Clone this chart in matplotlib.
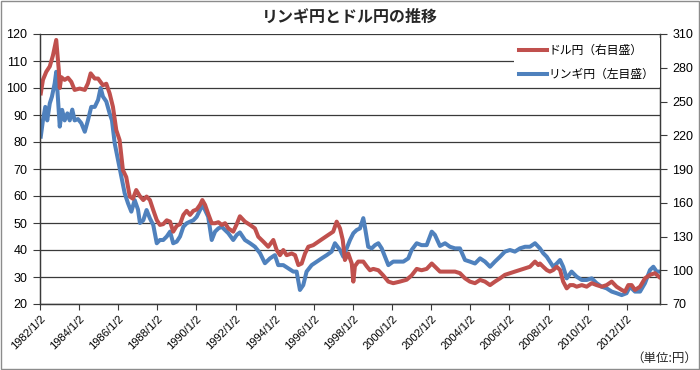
import matplotlib
matplotlib.use("Agg")
import matplotlib.pyplot as plt
from matplotlib.patches import Rectangle

plt.rcParams['font.family'] = ['Liberation Sans', 'Noto Sans CJK JP', 'DejaVu Sans']

# ---- data (decimal years, values) ----
usd_years = [1982.04, 1982.15, 1982.32, 1982.50, 1982.66, 1982.83, 1982.96, 1983.01, 1983.09, 1983.26,
             1983.43, 1983.60, 1983.77, 1984.03, 1984.29, 1984.45, 1984.59, 1984.80, 1984.97, 1985.22,
             1985.39, 1985.56, 1985.73, 1985.90, 1986.07, 1986.24, 1986.41, 1986.59, 1986.75, 1986.92,
             1987.10, 1987.28, 1987.45, 1987.62, 1987.79, 1987.97, 1988.13, 1988.30, 1988.48, 1988.65,
             1988.81, 1988.99, 1989.16, 1989.33, 1989.50, 1989.67, 1989.84, 1990.01, 1990.18, 1990.30,
             1990.44, 1990.60, 1990.78, 1990.95, 1991.12, 1991.29, 1991.46, 1991.63, 1991.88, 1992.06,
             1992.22, 1992.48, 1992.74, 1992.99, 1993.16, 1993.42, 1993.67, 1993.93, 1994.10, 1994.27,
             1994.44, 1994.61, 1994.87, 1995.04, 1995.21, 1995.38, 1995.55, 1995.72, 1995.97, 1996.23,
             1996.48, 1996.74, 1996.99, 1997.17, 1997.34, 1997.48, 1997.59, 1997.76, 1997.94, 1998.02,
             1998.10, 1998.27, 1998.53, 1998.70, 1998.87, 1999.04, 1999.30, 1999.55, 1999.81, 2000.06,
             2000.40, 2000.75, 2001.00, 2001.26, 2001.51, 2001.77, 2002.03, 2002.28, 2002.45, 2002.71,
             2002.96, 2003.22, 2003.47, 2003.73, 2003.98, 2004.24, 2004.50, 2004.75, 2005.01, 2005.26,
             2005.52, 2005.77, 2006.03, 2006.28, 2006.54, 2006.80, 2007.05, 2007.31, 2007.48, 2007.56,
             2007.73, 2007.91, 2008.07, 2008.24, 2008.42, 2008.59, 2008.75, 2008.93, 2009.10, 2009.27,
             2009.44, 2009.70, 2009.95, 2010.21, 2010.46, 2010.72, 2010.97, 2011.23, 2011.48, 2011.74,
             2011.91, 2012.08, 2012.25, 2012.42, 2012.68, 2012.93, 2013.19, 2013.44, 2013.66]
usd_jpy = [257.2, 269.2, 276.4, 281.2, 290.8, 304.7, 278.1, 262.0, 271.6, 269.2,
           271.1, 267.5, 260.3, 261.5, 260.3, 266.1, 275.0, 270.4, 270.4, 264.4,
           265.8, 257.2, 245.2, 224.6, 215.7, 189.0, 182.8, 165.5, 163.6, 171.3,
           166.0, 162.4, 165.5, 162.4, 153.5, 144.6, 140.3, 141.0, 144.4, 143.2,
           134.3, 139.4, 141.0, 149.2, 152.8, 149.2, 152.8, 154.0, 158.1, 162.4,
           158.1, 150.2, 141.8, 141.8, 142.7, 140.3, 141.8, 137.2, 134.3, 141.0,
           148.0, 143.2, 140.3, 137.2, 129.8, 125.4, 120.9, 126.9, 118.0, 113.4,
           118.0, 113.4, 114.9, 113.4, 104.6, 106.0, 114.9, 120.9, 122.3, 125.4,
           128.3, 131.4, 134.3, 143.2, 137.2, 126.9, 109.1, 114.9, 106.0, 89.9,
           103.6, 107.7, 107.7, 103.6, 100.0, 101.2, 100.0, 95.4, 89.9, 88.5,
           89.9, 91.6, 95.4, 101.2, 100.0, 101.2, 106.0, 101.7, 98.8, 98.8,
           98.8, 98.8, 97.4, 92.8, 89.9, 88.5, 91.4, 89.9, 86.8, 89.9,
           92.8, 95.9, 97.4, 98.8, 100.2, 101.7, 103.1, 107.7, 104.6, 106.0,
           103.1, 100.2, 98.8, 100.2, 103.1, 100.2, 89.9, 83.9, 86.8, 86.8,
           85.4, 86.8, 85.4, 88.5, 86.8, 85.4, 86.8, 89.9, 85.4, 82.5,
           81.0, 86.8, 86.8, 82.5, 85.4, 92.8, 95.9, 97.4, 94.0]

myr_years = [1982.04, 1982.15, 1982.27, 1982.37, 1982.50, 1982.61, 1982.75, 1982.83, 1982.92, 1983.01,
             1983.13, 1983.26, 1983.40, 1983.52, 1983.65, 1983.77, 1983.94, 1984.11, 1984.29, 1984.45,
             1984.62, 1984.80, 1984.97, 1985.10, 1985.22, 1985.39, 1985.56, 1985.68, 1985.82, 1985.99,
             1986.16, 1986.33, 1986.50, 1986.67, 1986.84, 1987.01, 1987.11, 1987.28, 1987.45, 1987.62,
             1987.79, 1987.97, 1988.13, 1988.30, 1988.48, 1988.65, 1988.81, 1988.99, 1989.16, 1989.33,
             1989.50, 1989.67, 1989.84, 1990.01, 1990.18, 1990.30, 1990.44, 1990.60, 1990.78, 1990.95,
             1991.12, 1991.29, 1991.46, 1991.63, 1991.88, 1992.06, 1992.22, 1992.48, 1992.74, 1992.99,
             1993.25, 1993.50, 1993.76, 1994.01, 1994.18, 1994.44, 1994.69, 1994.95, 1995.12, 1995.29,
             1995.46, 1995.63, 1995.89, 1996.15, 1996.40, 1996.66, 1996.91, 1997.08, 1997.34, 1997.51,
             1997.68, 1997.85, 1998.02, 1998.19, 1998.36, 1998.53, 1998.61, 1998.78, 1998.96, 1999.13,
             1999.30, 1999.47, 1999.64, 1999.81, 2000.06, 2000.32, 2000.58, 2000.83, 2001.00, 2001.26,
             2001.51, 2001.77, 2002.03, 2002.19, 2002.45, 2002.71, 2002.96, 2003.22, 2003.47, 2003.73,
             2003.98, 2004.24, 2004.50, 2004.75, 2005.01, 2005.26, 2005.52, 2005.77, 2006.03, 2006.28,
             2006.54, 2006.80, 2007.05, 2007.31, 2007.48, 2007.56, 2007.73, 2007.91, 2008.07, 2008.24,
             2008.42, 2008.59, 2008.75, 2008.93, 2009.18, 2009.44, 2009.70, 2009.95, 2010.21, 2010.46,
             2010.72, 2010.97, 2011.23, 2011.48, 2011.74, 2011.99, 2012.16, 2012.42, 2012.68, 2012.93,
             2013.19, 2013.36, 2013.53, 2013.66]
myr_jpy = [82.0, 88.0, 93.0, 88.0, 94.3, 96.8, 101.7, 106.0, 95.6, 85.7,
           91.9, 88.0, 90.6, 88.0, 92.0, 88.0, 88.5, 87.0, 83.8, 88.0,
           93.0, 93.0, 95.6, 100.0, 96.8, 95.0, 90.6, 88.0, 79.5, 73.3,
           67.0, 61.0, 57.3, 54.2, 58.5, 55.0, 50.0, 51.0, 54.8, 51.7,
           49.3, 42.5, 43.7, 43.7, 45.0, 46.8, 42.5, 43.1, 45.0, 48.6,
           49.9, 50.5, 51.0, 52.3, 54.8, 56.7, 54.8, 52.3, 43.7, 46.8,
           48.0, 48.6, 47.4, 46.2, 43.7, 45.6, 46.5, 43.7, 42.5, 41.2,
           38.8, 35.1, 36.9, 38.1, 34.4, 34.4, 33.2, 32.0, 32.0, 25.2,
           27.0, 32.0, 34.4, 35.7, 36.9, 38.1, 39.4, 42.5, 40.0, 37.5,
           40.6, 43.7, 46.2, 47.4, 48.0, 51.8, 48.6, 41.2, 40.6, 41.8,
           42.5, 40.6, 37.5, 34.4, 35.7, 35.7, 35.7, 36.9, 40.0, 42.5,
           41.8, 41.8, 46.8, 45.6, 41.5, 42.5, 41.2, 40.6, 40.6, 36.3,
           35.7, 35.0, 36.9, 35.7, 33.8, 35.7, 37.5, 39.4, 40.0, 39.4,
           40.6, 41.2, 41.2, 42.5, 41.2, 40.6, 38.8, 37.5, 35.7, 33.8,
           35.0, 36.3, 33.8, 29.5, 32.0, 30.1, 28.9, 28.9, 29.5, 27.7,
           26.4, 25.8, 24.6, 24.0, 23.3, 24.0, 26.4, 24.6, 24.6, 27.7,
           32.6, 33.8, 32.0, 32.0]

left_ticks = [20, 30, 40, 50, 60, 70, 80, 90, 100, 110, 120]
right_ticks = [70, 100, 130, 160, 190, 220, 250, 280, 310]
x_tick_years = list(range(1982, 2013, 2))
x_tick_labels = [f"{y}/1/2" for y in x_tick_years]

title = "リンギ円とドル円の推移"
usd_label = "ドル円（右目盛）"
myr_label = "リンギ円（左目盛）"
unit_note = "（単位:円）"

RED = "#C0504D"
BLUE = "#4F81BD"
GRID = "#3a3a3a"
CJK = ['Noto Sans CJK JP', 'DejaVu Sans']
LW = 2.9

fig = plt.figure(figsize=(7.0, 3.7), dpi=100)
fig.patches.append(Rectangle((0.001, 0.002), 0.997, 0.995, transform=fig.transFigure,
                             fill=False, edgecolor="#8c8c8c", linewidth=1.0))
ax1 = fig.add_axes([40/700, 1-304/370, 620/700, 270/370])
ax2 = ax1.twinx()

l1, = ax1.plot(myr_years, myr_jpy, color=BLUE, linewidth=LW, solid_joinstyle='round')
l2, = ax2.plot(usd_years, usd_jpy, color=RED, linewidth=LW, solid_joinstyle='round')

ax1.set_xlim(1982.0, 2013.70)
ax1.set_ylim(20, 120)
ax2.set_ylim(70, 310)
ax1.set_yticks(left_ticks)
ax2.set_yticks(right_ticks)
ax1.set_xticks(x_tick_years)
ax1.set_xticklabels(x_tick_labels, rotation=45, ha='right', va='top',
                    rotation_mode='anchor', fontsize=8)
ax1.tick_params(axis='x', direction='out', length=4, width=0.8, color=GRID, pad=3)
ax1.tick_params(axis='y', direction='out', length=5, width=0.8, color=GRID, labelsize=9, pad=4)
ax2.tick_params(axis='y', direction='out', length=5, width=0.8, color=GRID, labelsize=9, pad=4)

ax1.yaxis.grid(True, color=GRID, linewidth=0.9)
ax1.set_axisbelow(True)
for ax in (ax1, ax2):
    ax.spines['top'].set_visible(False)
    for s in ('left', 'right', 'bottom'):
        ax.spines[s].set_color(GRID)
        ax.spines[s].set_linewidth(0.9)
ax2.patch.set_visible(False)

leg = ax2.legend([l2, l1], [usd_label, myr_label], loc='upper right',
                 bbox_to_anchor=(1.0, 0.985), frameon=True, fancybox=False,
                 prop={'family': CJK, 'size': 8.5}, handlelength=2.3,
                 handletextpad=0.15, labelspacing=0.95, borderpad=0.5,
                 borderaxespad=0.0)
leg.get_frame().set_facecolor('white')
leg.get_frame().set_edgecolor('none')
leg.get_frame().set_alpha(1.0)
for ln in leg.get_lines():
    ln.set_linewidth(LW)

fig.text(0.5, 1-17/370, title, ha='center', va='center', fontsize=11.5,
         fontweight='bold', family=CJK, color='#262626')
fig.text(697/700, 1-358/370, unit_note, ha='right', va='center', fontsize=9,
         family=CJK, color='#262626')

fig.savefig("out.png", dpi=100)
